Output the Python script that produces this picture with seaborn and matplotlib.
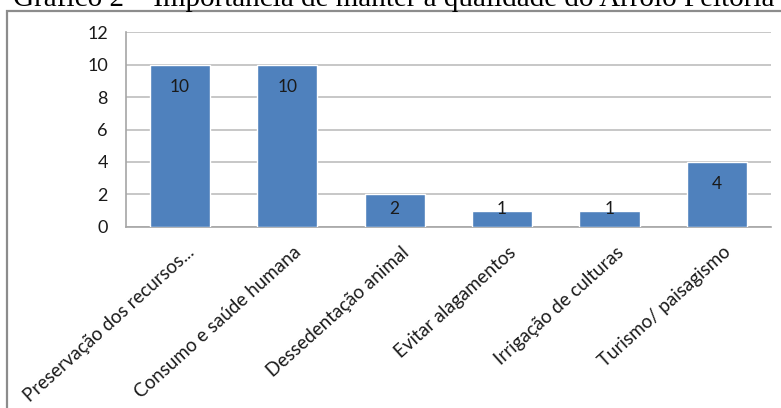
import matplotlib
matplotlib.use("Agg")
import matplotlib.pyplot as plt
import matplotlib.transforms as mtransforms
import seaborn as sns
import pandas as pd
from matplotlib.patches import Rectangle

categorias = [
    "Preservação dos recursos...",
    "Consumo e saúde humana",
    "Dessedentação animal",
    "Evitar alagamentos",
    "Irrigação de culturas",
    "Turismo/ paisagismo",
]
respostas = [10, 10, 2, 1, 1, 4]
y_ticks = [0, 2, 4, 6, 8, 10, 12]
titulo = "Gráfico 2 – Importância de manter a qualidade do Arroio Feitoria"

df = pd.DataFrame({"categoria": categorias, "respostas": respostas})

sns.set_theme(style="white")
plt.rcParams["font.family"] = ["Lato", "DejaVu Sans"]

fig = plt.figure(figsize=(7.81, 4.08), dpi=100)
ax = fig.add_axes([126 / 781, 1 - 226.7 / 408, (770.7 - 126) / 781, (226.7 - 32.3) / 408])

sns.barplot(data=df, x="categoria", y="respostas", color="#4F81BD",
            saturation=1, width=0.56, ax=ax, zorder=3)

ax.set_ylim(0, 12)
ax.set_xlim(-0.5, len(categorias) - 0.5)
ax.set_yticks(y_ticks)
ax.set_yticklabels([str(t) for t in y_ticks], fontsize=13, color="#1a1a1a")
ax.yaxis.grid(True, color="#BDBDBD", linewidth=1.2, zorder=0)
ax.set_axisbelow(True)
ax.tick_params(axis="y", length=0, pad=13)
ax.tick_params(axis="x", length=0, pad=12)
ax.set_xlabel("")
ax.set_ylabel("")

for side in ("top", "right"):
    ax.spines[side].set_visible(False)
for side in ("left", "bottom"):
    ax.spines[side].set_color("#A6A6A6")
    ax.spines[side].set_linewidth(1.2)

ax.set_xticks(range(len(categorias)))
ax.set_xticklabels(categorias, rotation=42, ha="right", va="top",
                   rotation_mode="anchor", fontsize=13.5, color="#1a1a1a")
shift = mtransforms.ScaledTranslation(6 / 100, 0, fig.dpi_scale_trans)
for lbl in ax.get_xticklabels():
    lbl.set_transform(lbl.get_transform() + shift)

# value labels inside the top of each bar
for i, v in enumerate(respostas):
    ax.text(i, max(v - 1.35, 1.1), str(v), ha="center", va="center",
            fontsize=12.5, color="#1a1a1a", zorder=4)

# outer chart frame
fig.patches.append(Rectangle((7 / 781, -0.1), 1.2, 1 - 11 / 408 + 0.1,
                             transform=fig.transFigure, fill=False,
                             edgecolor="#8C8C8C", linewidth=1.6))

fig.text(13 / 781, 1 - 6.5 / 408, titulo, ha="left", va="baseline",
         fontsize=21, family=["Liberation Serif", "DejaVu Serif"], color="black")

fig.savefig("out.png", dpi=100)
